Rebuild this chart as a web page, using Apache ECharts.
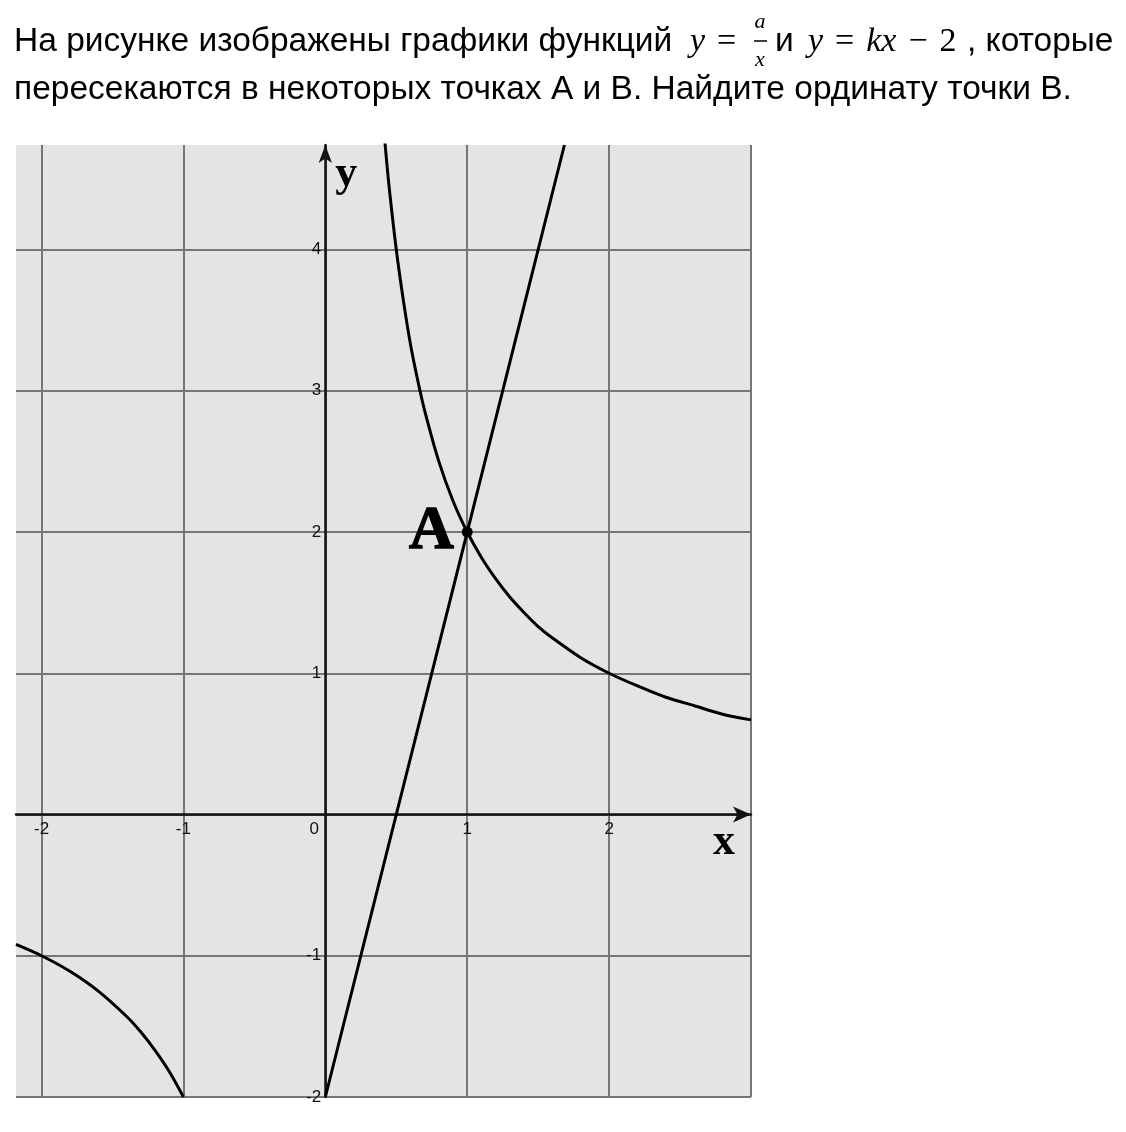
<!DOCTYPE html>
<html><head><meta charset="utf-8">
<script src="https://cdn.jsdelivr.net/npm/echarts@6/dist/echarts.min.js"></script>
<style>html,body{margin:0;padding:0;background:#fff}#c{width:1126px;height:1132px}</style>
</head><body><div id="c"></div>
<script>
// Axis ticks / labels
const xGridValues = [-2, -1, 0, 1, 2, 3];
const xLabelValues = [-2, -1, 0, 1, 2];
const yGridValues = [-2, -1, 0, 1, 2, 3, 4];
const yLabelValues = [-2, -1, 1, 2, 3, 4];
const xRange = [-2.18, 3];
const yRange = [-2, 4.74];

// y = kx - 2 (straight line through (0,-2) and A)
const lineX = [0, 1, 1.685];
const lineY = [-2, 2, 4.74];

// y = a/x, right branch
const hypRightX = [0.42, 0.45, 0.5, 0.55, 0.6, 0.65, 0.7, 0.8, 0.9, 1.0, 1.1, 1.2, 1.3, 1.4, 1.5, 1.6, 1.8, 2.0, 2.2, 2.4, 2.6, 2.8, 3.0];
const hypRightY = [4.76, 4.44, 4.0, 3.64, 3.33, 3.08, 2.86, 2.5, 2.22, 2.0, 1.82, 1.67, 1.54, 1.43, 1.33, 1.25, 1.11, 1.0, 0.91, 0.83, 0.77, 0.71, 0.67];

// y = a/x, left branch
const hypLeftX = [-2.18, -2.0, -1.8, -1.6, -1.4, -1.3, -1.2, -1.1, -1.0];
const hypLeftY = [-0.92, -1.0, -1.11, -1.25, -1.43, -1.54, -1.67, -1.82, -2.0];

// point A
const pointA = [1, 2];
const pointALabel = 'A';

const zip = (xs, ys) => xs.map((x, i) => [x, ys[i]]);

const chart = echarts.init(document.getElementById('c'), null, {renderer: 'canvas'});
const serif = '"Liberation Serif", "DejaVu Serif", serif';
const sans = '"Liberation Sans", Arial, sans-serif';
const mathFont = '"Liberation Serif", "DejaVu Serif", serif';

const mathRich = {
  i: {fontFamily: mathFont, fontStyle: 'italic', fontSize: 34, color: '#000'},
  n: {fontFamily: mathFont, fontSize: 34, color: '#000'},
  op: {fontFamily: mathFont, fontSize: 34, color: '#000', padding: [0, 12, 0, 12]},
  opl: {fontFamily: mathFont, fontSize: 34, color: '#000', padding: [0, 0, 0, 12]}
};

const option = {
  backgroundColor: '#ffffff',
  animation: false,
  graphic: [
    {type: 'text', x: 14, y: 42, style: {text: 'На рисунке изображены графики функций', font: '33.5px ' + sans, fill: '#000', verticalAlign: 'middle'}},
    {type: 'text', x: 690, y: 42, style: {text: '{i|y}{opl|=}', rich: mathRich, verticalAlign: 'middle'}},
    {type: 'text', x: 760, y: 22, style: {text: 'a', font: 'italic 22px ' + mathFont, fill: '#000', verticalAlign: 'middle', align: 'center'}},
    {type: 'line', shape: {x1: 754, y1: 41, x2: 767, y2: 41}, style: {stroke: '#000', lineWidth: 1.5}},
    {type: 'text', x: 760, y: 60, style: {text: 'x', font: 'italic 22px ' + mathFont, fill: '#000', verticalAlign: 'middle', align: 'center'}},
    {type: 'text', x: 775, y: 42, style: {text: 'и', font: '33.5px ' + sans, fill: '#000', verticalAlign: 'middle'}},
    {type: 'text', x: 808, y: 42, style: {text: '{i|y}{op|=}{i|kx}{op|−}{n|2}', rich: mathRich, verticalAlign: 'middle'}},
    {type: 'text', x: 967, y: 42, style: {text: ', которые', font: '33.5px ' + sans, fill: '#000', verticalAlign: 'middle'}},
    {type: 'text', x: 14, y: 90, style: {text: 'пересекаются в некоторых точках А и В. Найдите ординату точки В.', font: '33.5px ' + sans, fill: '#000', verticalAlign: 'middle'}}
  ],
  grid: {
    left: 16, right: 375, top: 145, bottom: 35,
    show: true, backgroundColor: '#e4e4e4', borderWidth: 0
  },
  xAxis: {
    type: 'value', min: xRange[0], max: xRange[1],
    axisLine: {onZero: true, lineStyle: {color: '#111', width: 2.5}, symbol: ['none', 'arrow'], symbolSize: [12, 18]},
    axisTick: {show: false, customValues: xGridValues},
    splitLine: {show: true, lineStyle: {color: '#767676', width: 2}},
    axisLabel: {show: false, customValues: xLabelValues},
    name: 'x', nameLocation: 'end', nameGap: -16,
    nameTextStyle: {fontFamily: serif, fontWeight: 'bold', fontSize: 44, color: '#000', align: 'right', verticalAlign: 'top', padding: [6, 0, 0, 0]}
  },
  yAxis: {
    type: 'value', min: yRange[0], max: yRange[1],
    axisLine: {onZero: true, lineStyle: {color: '#111', width: 2.5}, symbol: ['none', 'arrow'], symbolSize: [10, 18]},
    axisTick: {show: false, customValues: yGridValues},
    splitLine: {show: true, lineStyle: {color: '#767676', width: 2}},
    axisLabel: {show: false, customValues: yLabelValues},
    name: 'y', nameLocation: 'end', nameGap: -8,
    nameTextStyle: {fontFamily: serif, fontWeight: 'bold', fontSize: 44, color: '#000', align: 'left', verticalAlign: 'top', padding: [0, 0, 0, 10]}
  },
  series: [
    {type: 'line', data: zip(lineX, lineY), symbol: 'none', lineStyle: {color: '#000', width: 3}, clip: true, z: 3},
    {type: 'line', data: zip(hypRightX, hypRightY), smooth: 0.3, symbol: 'none', lineStyle: {color: '#000', width: 3}, clip: true, z: 3},
    {type: 'line', data: zip(hypLeftX, hypLeftY), smooth: 0.3, symbol: 'none', lineStyle: {color: '#000', width: 3}, clip: true, z: 3},
    {type: 'scatter', data: [pointA], symbolSize: 11, itemStyle: {color: '#000', opacity: 1}, z: 4,
     label: {show: true, formatter: pointALabel, position: 'left', distance: 8, fontFamily: serif, fontWeight: 'bold', fontSize: 62, color: '#000', opacity: 1, textBorderColor: '#000', textBorderWidth: 1.5}},
    // x tick labels on the x axis line
    {type: 'scatter', data: xLabelValues.map(v => [v, 0]), symbol: 'circle', symbolSize: 0, itemStyle: {color: '#000'}, silent: true, z: 5,
     label: {show: true, position: 'bottom', distance: 6, fontFamily: sans, fontSize: 17, color: '#111', opacity: 1,
       formatter: p => String(p.value[0])},
     labelLayout: p => (p.dataIndex === 2 ? {dx: -11} : {})},
    // y tick labels on the y axis line
    {type: 'scatter', data: yLabelValues.map(v => [0, v]), symbol: 'circle', symbolSize: 0, itemStyle: {color: '#000'}, silent: true, z: 5,
     label: {show: true, position: 'left', distance: 4, fontFamily: sans, fontSize: 17, color: '#111', opacity: 1,
       formatter: p => String(p.value[1])}}
  ]
};
chart.setOption(option);
</script></body></html>
